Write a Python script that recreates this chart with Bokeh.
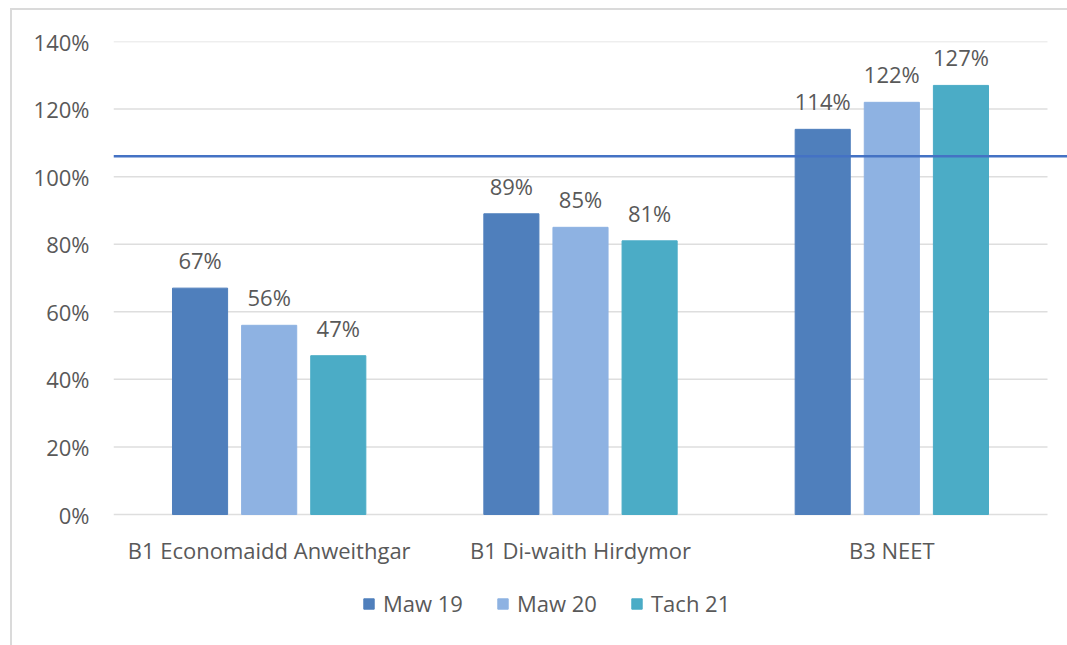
from bokeh.plotting import figure
from bokeh.models import (ColumnDataSource, Range1d, FixedTicker, NumeralTickFormatter,
                          Legend, LegendItem, Span)
from bokeh.layouts import column
from bokeh.core.properties import value
from bokeh.embed import file_html
from bokeh.resources import INLINE

# ---- data ----
categories = ["B1 Economaidd Anweithgar", "B1 Di-waith Hirdymor", "B3 NEET"]
series = ["Maw 19", "Maw 20", "Tach 21"]
maw19 = [0.67, 0.89, 1.14]
maw20 = [0.56, 0.85, 1.22]
tach21 = [0.47, 0.81, 1.27]
target = 1.06
y_ticks = [0.0, 0.2, 0.4, 0.6, 0.8, 1.0, 1.2, 1.4]

# ---- style ----
colors = ["#4F7FBC", "#8EB2E2", "#4BACC6"]
target_color = "#4472C4"
text_color = "#595959"
grid_color = "#DEDEDE"
FONT = "Open Sans"
FS = "22px"

OX, OY = 12, 10                 # figure offset inside the bordered chart area
W, H = 1067 - OX, 645 - OY
top_px, zero_px, bottom_px = 41, 514, 640   # page pixels of 140%, 0% and frame bottom
left = 113 - OX
frame_w = W - left
plot_w = 934.0                  # pixel width holding the three category slots
n = len(categories)
x_end = n * frame_w / plot_w
y_end = y_ticks[-1]
y_start = -y_end * (bottom_px - zero_px) / (zero_px - top_px)

p = figure(width=W, height=H, output_backend="svg", toolbar_location=None,
           x_range=Range1d(0, x_end), y_range=Range1d(y_start, y_end),
           min_border_left=left, min_border_right=0, min_border_top=top_px - OY,
           min_border_bottom=645 - bottom_px)
p.outline_line_color = None
p.background_fill_color = "white"
p.border_fill_color = "white"
p.xgrid.visible = False
p.ygrid.visible = False
p.xaxis.visible = False

# gridlines only over the category slots
p.segment(x0=[0] * len(y_ticks), x1=[n] * len(y_ticks), y0=y_ticks, y1=y_ticks,
          line_color=grid_color, line_width=1.5)

# bars
bar_w = 0.177
step = 0.222
all_vals = [maw19, maw20, tach21]
items = []
for k, (name, vals, col) in enumerate(zip(series, all_vals, colors)):
    xs = [i + 0.5 + (k - 1) * step for i in range(n)]
    src = ColumnDataSource(dict(x=xs, top=vals, lab=[f"{round(v * 100)}%" for v in vals]))
    r = p.vbar(x="x", top="top", width=bar_w, bottom=0, source=src,
               fill_color=col, line_color=col)
    p.text(x="x", y="top", text="lab", source=src, text_align="center",
           text_baseline="middle", y_offset=-28, text_color=text_color,
           text_font=value(FONT), text_font_size=FS)
    items.append(LegendItem(label=name, renderers=[r]))

# category labels under the 0% line
cat_src = ColumnDataSource(dict(x=[i + 0.5 for i in range(n)], y=[0] * n, t=categories))
p.text(x="x", y="y", text="t", source=cat_src, text_align="center",
       text_baseline="middle", y_offset=35, text_color=text_color,
       text_font=value(FONT), text_font_size=FS)

# target line
p.add_layout(Span(location=target, dimension="width", line_color=target_color,
                  line_width=2.5))

# y axis
p.yaxis.ticker = FixedTicker(ticks=y_ticks)
p.yaxis.formatter = NumeralTickFormatter(format="0%")
p.yaxis.axis_line_color = None
p.yaxis.major_tick_line_color = None
p.yaxis.minor_tick_line_color = None
p.yaxis.major_label_standoff = 18
p.yaxis.major_label_text_color = text_color
p.yaxis.major_label_text_font = FONT
p.yaxis.major_label_text_font_size = FS

legend = Legend(items=items, orientation="horizontal", location=(249, 22),
                glyph_width=13, glyph_height=13, label_standoff=8, spacing=27,
                label_width=86, padding=0, margin=0, border_line_color=None,
                background_fill_alpha=0, label_text_color=text_color,
                label_text_font=FONT, label_text_font_size=FS)
p.add_layout(legend, "center")

layout = column(p, margin=(OY - 2, 0, 0, OX - 2),
                styles={"border-left": "2px solid #DADADA",
                        "border-top": "2px solid #DADADA"})

open("out.html", "w").write(file_html(layout, INLINE))
